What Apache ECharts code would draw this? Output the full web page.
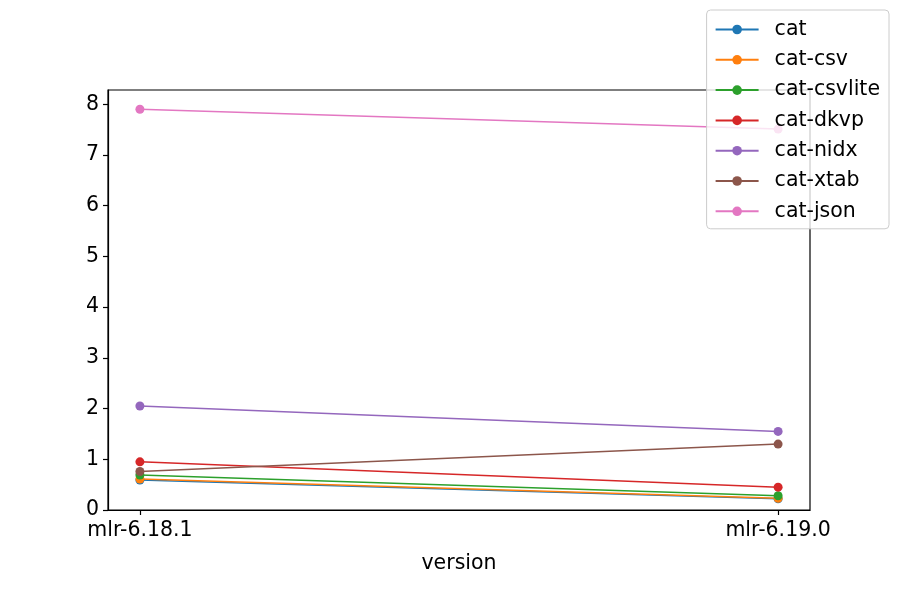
<!DOCTYPE html>
<html>
<head>
<meta charset="utf-8">
<script src="https://cdn.jsdelivr.net/npm/echarts@6/dist/echarts.min.js"></script>
<style>
  html, body { margin: 0; padding: 0; background: #fff; }
  #chart { width: 900px; height: 600px; }
</style>
</head>
<body>
<div id="chart"></div>
<script>
var versions = ['mlr-6.18.1', 'mlr-6.19.0'];
var seriesNames = ['cat', 'cat-csv', 'cat-csvlite', 'cat-dkvp', 'cat-nidx', 'cat-xtab', 'cat-json'];
var catTimes = [0.59, 0.22];
var catCsvTimes = [0.61, 0.23];
var catCsvliteTimes = [0.69, 0.28];
var catDkvpTimes = [0.95, 0.45];
var catNidxTimes = [2.05, 1.55];
var catXtabTimes = [0.76, 1.30];
var catJsonTimes = [7.90, 7.51];
var yTicks = [0, 1, 2, 3, 4, 5, 6, 7, 8];

var colors = ['#1f77b4', '#ff7f0e', '#2ca02c', '#d62728', '#9467bd', '#8c564b', '#e377c2'];
var allTimes = [catTimes, catCsvTimes, catCsvliteTimes, catDkvpTimes, catNidxTimes, catXtabTimes, catJsonTimes];

var chart = echarts.init(document.getElementById('chart'));
var font = 'DejaVu Sans';
var fs = 20.5;

var option = {
    animation: false,
    textStyle: { fontFamily: font },
    grid: {
        left: 108, right: 90, top: 90, bottom: 90,
        show: true, borderColor: '#000', borderWidth: 1.2
    },
    legend: {
        orient: 'vertical',
        right: 11,
        top: 10,
        padding: [9, 9, 7, 8],
        itemGap: 9.3,
        itemWidth: 43,
        itemHeight: 12,
        backgroundColor: 'rgba(255,255,255,0.8)',
        borderColor: '#cccccc',
        borderWidth: 1,
        borderRadius: 4,
        textStyle: { fontFamily: font, fontSize: fs, lineHeight: 21, color: '#000', padding: [0, 0, 0, 11] },
        data: seriesNames
    },
    xAxis: {
        type: 'value',
        min: -0.05,
        max: 1.05,
        name: 'version',
        nameLocation: 'middle',
        nameGap: 43,
        nameTextStyle: { fontFamily: font, fontSize: fs, color: '#000' },
        splitLine: { show: false },
        axisLine: { show: true, onZero: false, lineStyle: { color: '#000', width: 1.2 } },
        axisTick: { show: true, length: 5, customValues: [0, 1], lineStyle: { color: '#000', width: 1.2 } },
        axisLabel: {
            customValues: [0, 1],
            fontFamily: font, fontSize: fs, color: '#000', margin: 10,
            formatter: function (v) { return versions[Math.round(v)]; }
        }
    },
    yAxis: {
        type: 'value',
        min: 0,
        max: 8.28,
        splitLine: { show: false },
        axisLine: { show: true, onZero: false, lineStyle: { color: '#000', width: 1.2 } },
        axisTick: { show: true, length: 5, customValues: yTicks, lineStyle: { color: '#000', width: 1.2 } },
        axisLabel: { customValues: yTicks, fontFamily: font, fontSize: fs, color: '#000', margin: 9 }
    },
    series: seriesNames.map(function (name, i) {
        return {
            name: name,
            type: 'line',
            symbol: 'circle',
            symbolSize: 9,
            color: colors[i],
            lineStyle: { width: 1.5, color: colors[i] },
            itemStyle: { color: colors[i] },
            data: versions.map(function (v, j) { return [j, allTimes[i][j]]; })
        };
    })
};

option && chart.setOption(option);
</script>
</body>
</html>
